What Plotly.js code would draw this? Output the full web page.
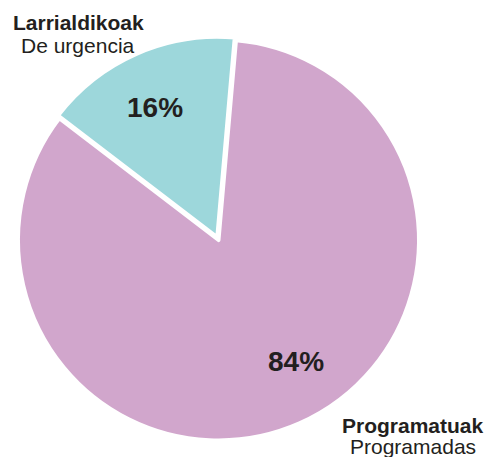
<!DOCTYPE html>
<html>
<head>
<meta charset="utf-8">
<script src="https://cdn.plot.ly/plotly-3.0.1.min.js"></script>
<style>
  html, body { margin: 0; padding: 0; background: #fff; }
  #pie { width: 486px; height: 457px; }
</style>
</head>
<body>
<div id="pie"></div>
<script>
var labelsEu = ["Larrialdikoak", "Programatuak"];
var labelsEs = ["De urgencia", "Programadas"];
var shares = [16, 84];

var sliceColors = ["#9dd7db", "#d1a6cc"];
var textColor = "#231f20";
var fontFam = "Liberation Sans, Arial, sans-serif";

// the first slice is anchored at its start angle; teal runs up to ~5deg right of 12 o'clock
var trace = {
  type: "pie",
  labels: labelsEu,
  values: shares,
  sort: false,
  direction: "counterclockwise",
  rotation: 5 - 360 * shares[0] / 100,
  pull: [0.015, 0],
  marker: {colors: sliceColors, line: {color: "#ffffff", width: 4}},
  textinfo: "none",
  hoverinfo: "none",
  domain: {x: [0.0309, 0.8683], y: [0.0295, 0.9201]}
};

var labelFont = {family: fontFam, size: 21, color: textColor};
var pctFont = {family: fontFam, size: 28, color: textColor};

var layout = {
  width: 486,
  height: 457,
  margin: {l: 0, r: 0, t: 0, b: 0},
  paper_bgcolor: "#ffffff",
  showlegend: false,
  annotations: [
    {text: "<b>" + shares[0] + "%</b>", x: 0.3189, y: 0.7648, font: pctFont},
    {text: "<b>" + shares[1] + "%</b>", x: 0.6091, y: 0.2079, font: pctFont},
    {text: "<b>" + labelsEu[0] + "</b>", x: 0.1615, y: 0.9497},
    {text: labelsEs[0], x: 0.1615, y: 0.9015},
    {text: "<b>" + labelsEu[1] + "</b>", x: 0.8498, y: 0.07},
    {text: labelsEs[1], x: 0.8498, y: 0.0219}
  ].map(function (a) {
    return Object.assign({xref: "paper", yref: "paper", xanchor: "center", yanchor: "middle",
      showarrow: false, font: labelFont}, a);
  })
};

Plotly.newPlot("pie", [trace], layout, {displayModeBar: false, staticPlot: true});
</script>
</body>
</html>
